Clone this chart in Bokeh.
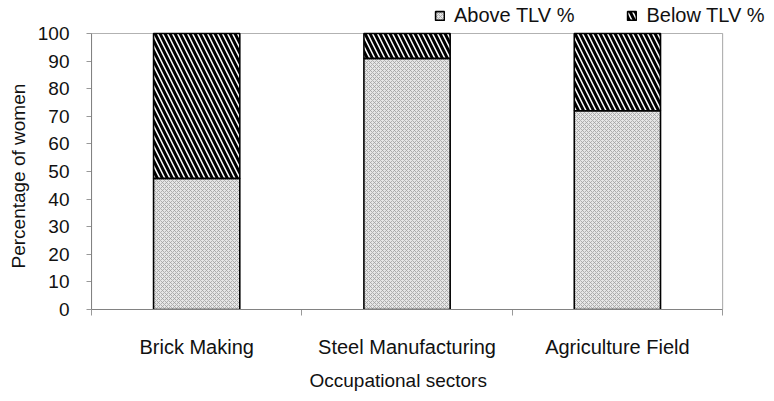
from bokeh.plotting import figure
from bokeh.models import (Range1d, FixedTicker, Legend, LegendItem, ColumnDataSource,
                          BoxAnnotation, Title)
from bokeh.embed import file_html
from bokeh.resources import INLINE

categories = ["Brick Making", "Steel Manufacturing", "Agriculture Field"]
above_tlv = [47.5, 91, 72]
below_tlv = [52.5, 9, 28]
series_names = ["Above TLV %", "Below TLV %"]
y_ticks = [0, 10, 20, 30, 40, 50, 60, 70, 80, 90, 100]
y_max = 100
x_title = "Occupational sectors"
y_title = "Percentage of women"

FONT = "Liberation Sans"
W, H = 774, 401
# layout (pixels): plot box spans x 90..722, y 33..309
LEFT, RIGHT_BOX, TOP_BOX, BOTTOM = 90, 722, 33, 309

n = len(categories)
x_end = n * (W - LEFT) / (RIGHT_BOX - LEFT)
y_end = y_max * (BOTTOM - 0) / (BOTTOM - TOP_BOX)

xs = [i + 0.5 for i in range(n)]
top_above = above_tlv
top_below = [a + b for a, b in zip(above_tlv, below_tlv)]

src = ColumnDataSource(dict(x=xs, above=top_above, below=top_below, base=[0] * n))

p = figure(width=W, height=H, output_backend="svg", toolbar_location=None,
           x_range=Range1d(0, x_end), y_range=Range1d(0, y_end),
           min_border_left=LEFT, min_border_right=0, min_border_top=0, min_border_bottom=H - BOTTOM)
p.xgrid.visible = False
p.ygrid.visible = False
p.outline_line_color = None
p.background_fill_color = "white"
p.border_fill_color = "white"

r1 = p.vbar(x="x", bottom="base", top="above", width=0.41, source=src,
            fill_color="#e6e6e6", line_color="black", line_width=1.6,
            hatch_pattern="diagonal_cross", hatch_color="#a0a0a0", hatch_scale=4, hatch_weight=0.8)
r2 = p.vbar(x="x", bottom="above", top="below", width=0.41, source=src,
            fill_color="white", line_color="black", line_width=1.6,
            hatch_pattern="\\", hatch_color="black", hatch_scale=10, hatch_weight=3)

# plot box (top and right black border)
p.add_layout(BoxAnnotation(left=0, right=n, bottom=0, top=y_max, fill_alpha=0,
                           line_color="black", line_width=1.2))

# y axis
p.yaxis.bounds = (0, y_max)
p.yaxis.ticker = FixedTicker(ticks=y_ticks, minor_ticks=[])
p.yaxis.major_label_text_font = FONT
p.yaxis.major_label_text_font_size = "19px"
p.yaxis.major_label_text_color = "#111111"
p.yaxis.major_label_standoff = 17
p.yaxis.axis_line_color = "#999999"
p.yaxis.major_tick_line_color = "#999999"
p.yaxis.major_tick_out = 5
p.yaxis.major_tick_in = 0
p.yaxis.minor_tick_line_color = None

# x axis: labels at centers, minor ticks at boundaries
p.xaxis.bounds = (0, n)
p.xaxis.ticker = FixedTicker(ticks=xs, minor_ticks=list(range(n + 1)))
p.xaxis.major_label_overrides = {x: c for x, c in zip(xs, categories)}
p.xaxis.major_label_text_font = FONT
p.xaxis.major_label_text_font_size = "20px"
p.xaxis.major_label_text_color = "#111111"
p.xaxis.major_label_standoff = 20
p.xaxis.axis_line_color = "#999999"
p.xaxis.major_tick_line_color = None
p.xaxis.major_tick_out = 6
p.xaxis.minor_tick_line_color = "#999999"
p.xaxis.minor_tick_out = 6
p.xaxis.minor_tick_in = 0

# axis titles, positioned relative to the plot box
p.add_layout(Title(text=y_title, align="left", offset=41, standoff=11,
                   text_font=FONT, text_font_size="19px", text_font_style="normal",
                   text_color="#111111"), "left")
p.add_layout(Title(text=x_title, align="left", offset=218, standoff=15,
                   text_font=FONT, text_font_size="19px", text_font_style="normal",
                   text_color="#111111"), "below")

legend = Legend(items=[LegendItem(label=series_names[0], renderers=[r1]),
                       LegendItem(label=series_names[1], renderers=[r2])],
                orientation="horizontal", location=(343, 282),
                label_text_font=FONT, label_text_font_size="20px", label_text_color="#111111",
                glyph_width=11, glyph_height=11, label_standoff=9, spacing=52,
                padding=0, margin=0, border_line_color=None, background_fill_alpha=0)
p.add_layout(legend, "center")

open("out.html", "w").write(file_html(p, INLINE))
